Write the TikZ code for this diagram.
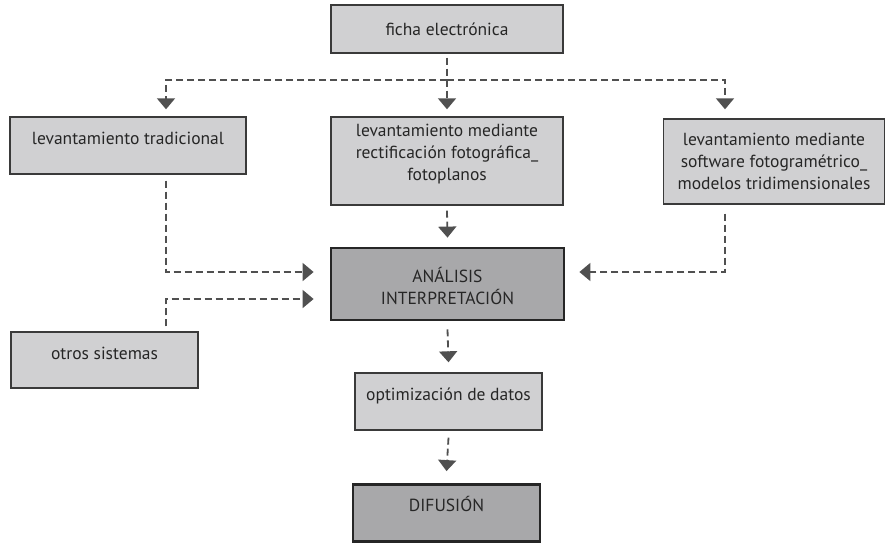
\documentclass[tikz,border=0pt]{standalone}
\usepackage{fontspec}
\setmainfont{PT Sans}
\usetikzlibrary{arrows.meta,calc}
\definecolor{lightbox}{HTML}{D0D0D2}
\definecolor{darkbox}{HTML}{A8A8AA}
\definecolor{edge}{HTML}{3A3A3A}
\definecolor{conn}{HTML}{505050}
\definecolor{txtc}{HTML}{262626}
\tikzset{
  lbox/.style={draw=edge, fill=lightbox, line width=1.4pt, inner sep=0pt, rectangle},
  dbox/.style={draw=black!85, fill=darkbox, line width=2.8pt, inner sep=0pt, rectangle},
  txt/.style={font=\fontsize{17.5}{22}\selectfont, text=txtc, align=center, inner sep=0pt},
  dla/.style={draw=conn, line width=1.8pt, dash pattern=on 7pt off 4pt,
    -{Triangle[width=18pt,length=11pt]}, color=conn},
  dl/.style={draw=conn, line width=1.8pt, dash pattern=on 7pt off 4pt}
}
\begin{document}
\begin{tikzpicture}[x=1pt,y=-1pt]
\useasboundingbox (0,0) rectangle (886,543);
% boxes
\node[lbox, minimum width=232pt, minimum height=48pt] (ficha) at (447,29) {};
\node[lbox, minimum width=236pt, minimum height=57pt] (trad) at (128,145.5) {};
\node[lbox, minimum width=232pt, minimum height=88pt] (mid) at (447,161) {};
\node[lbox, minimum width=221pt, minimum height=85pt] (right) at (774,161.5) {};
\node[dbox, minimum width=233pt, minimum height=72pt] (anal) at (447.5,284) {};
\node[lbox, minimum width=187pt, minimum height=56pt] (otros) at (104.5,360) {};
\node[lbox, minimum width=187pt, minimum height=57pt] (optim) at (448.5,401.5) {};
\node[dbox, minimum width=187pt, minimum height=57pt] (dif) at (446.5,513) {};
% texts
\node[txt] (fichat) at (447,29) {ficha electrónica};
\node[txt] (tradt) at (128,138) {levantamiento tradicional};
\node[txt] (midt) at (447,154) {levantamiento mediante\\rectificación fotográfica\_\\fotoplanos};
\node[txt] (rightt) at (774,161) {levantamiento mediante\\software fotogramétrico\_\\modelos tridimensionales};
\node[txt] (analt) at (447.5,286) {ANÁLISIS\\INTERPRETACIÓN};
\node[txt] (otrost) at (104.5,353) {otros sistemas};
\node[txt] (optimt) at (448.5,396) {optimización de datos};
\node[txt] (dift) at (446.5,504) {DIFUSIÓN};
% connectors
\coordinate (split) at (447,80);
\draw[dla] ([yshift=-4pt]ficha.south) -- ([yshift=7pt]mid.north);
\draw[dla] (split) -| ([xshift=38pt,yshift=7pt]trad.north);
\draw[dla] (split) -| ([xshift=-49pt,yshift=9pt]right.north);
\draw[dla] ([xshift=38pt,yshift=-6pt]trad.south) |- ([xshift=-16pt,yshift=12pt]anal.west);
\draw[dla] ([xshift=61.5pt,yshift=5pt]otros.north) |- ([xshift=-16pt,yshift=-15pt]anal.west);
\draw[dla] ([xshift=-49pt,yshift=-9pt]right.south) |- ([xshift=14pt,yshift=12pt]anal.east);
\draw[dla] ([yshift=-5pt]mid.south) -- ([yshift=9pt]anal.north);
\draw[dla] ([yshift=-8pt]anal.south) -- ([yshift=10pt]optim.north);
\draw[dla] ([yshift=-7pt]optim.south) -- ([yshift=12pt]dif.north);
\end{tikzpicture}
\end{document}
